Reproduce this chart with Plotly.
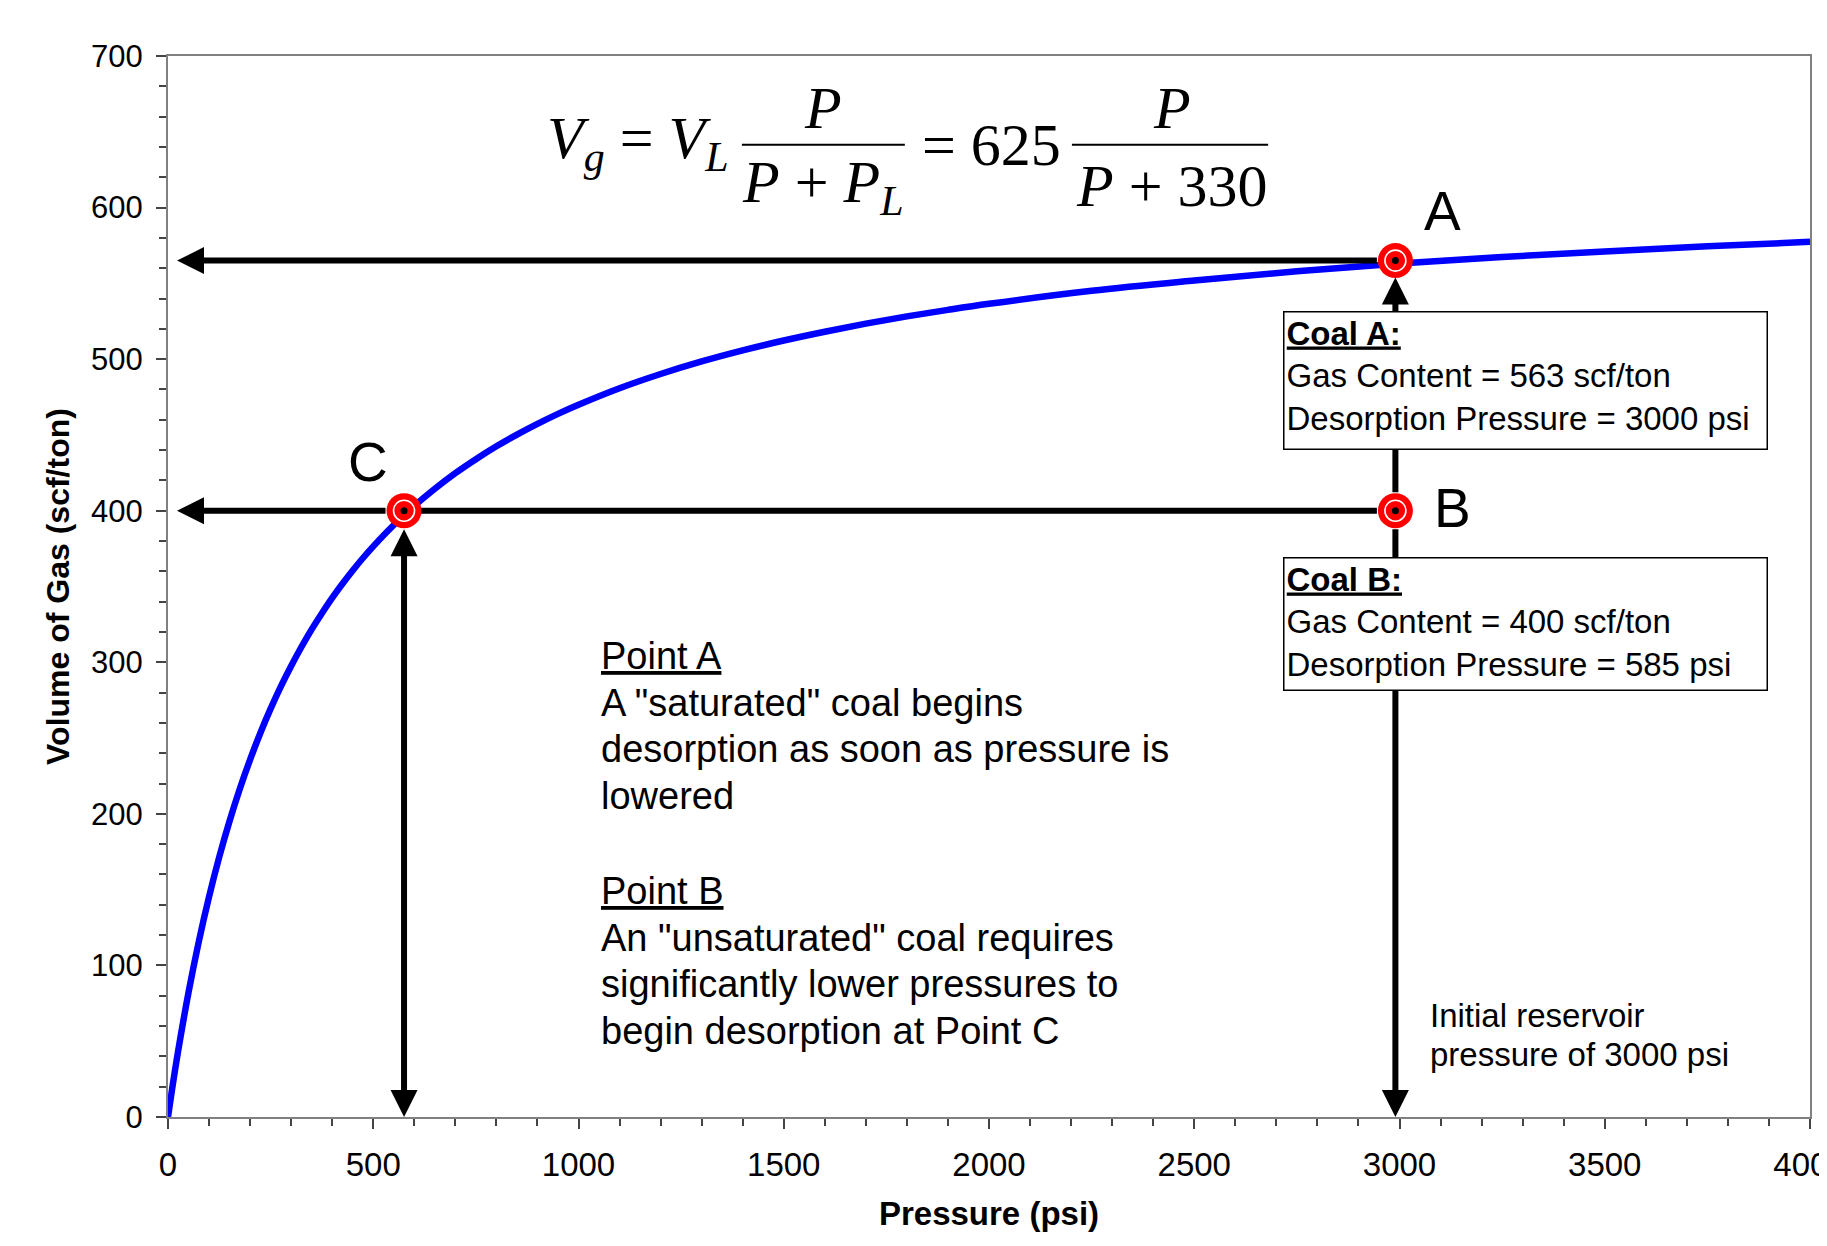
import plotly.graph_objects as go

# ---------------- data ----------------
pressure = [0, 10, 25, 50, 75, 100, 125, 150, 175, 200, 225, 250, 275, 300, 325,
            350, 375, 400, 425, 450, 475, 500, 550, 600, 650, 700, 750, 800,
            850, 900, 950, 1000, 1100, 1200, 1300, 1400, 1500, 1600, 1700,
            1800, 1900, 2000, 2250, 2500, 2750, 3000, 3250, 3500, 3750, 4000]
gas_volume = [0, 18.4, 44.0, 82.2, 115.7, 145.3, 171.7, 195.3, 216.6, 235.8, 253.4,
              269.4, 284.1, 297.6, 310.1, 321.7, 332.4, 342.5, 351.8, 360.6, 368.8,
              376.5, 390.6, 403.2, 414.5, 424.8, 434.0, 442.5, 450.2, 457.3, 463.9,
              469.9, 480.8, 490.2, 498.5, 505.8, 512.3, 518.1, 523.4, 528.2, 532.5,
              536.5, 545.1, 551.9, 558.0, 563.1, 567.4, 571.1, 574.4, 577.4]

point_labels = ["A", "B", "C"]
point_pressure = [2990, 2990, 575]
point_volume = [565, 400, 400]

x_ticks = [0, 500, 1000, 1500, 2000, 2500, 3000, 3500, 4000]
y_ticks = [0, 100, 200, 300, 400, 500, 600, 700]

# ---------------- figure ----------------
SANS = "Liberation Sans, Arial, sans-serif"
SERIF = "Liberation Serif, Times New Roman, serif"

fig = go.Figure()

fig.add_trace(go.Scatter(
    x=pressure, y=gas_volume, mode="lines",
    line=dict(color="#0000FF", width=6.5, shape="spline", smoothing=1.0, simplify=False),
    hoverinfo="skip", showlegend=False))

# target-like markers
fig.add_trace(go.Scatter(x=point_pressure, y=point_volume, mode="markers",
                         marker=dict(color="#FF0000", size=35, line=dict(width=0)),
                         showlegend=False, hoverinfo="skip"))
fig.add_trace(go.Scatter(x=point_pressure, y=point_volume, mode="markers",
                         marker=dict(symbol="circle-open", color="white", size=21,
                                     line=dict(width=1.6, color="white")),
                         showlegend=False, hoverinfo="skip"))
fig.add_trace(go.Scatter(x=point_pressure, y=point_volume, mode="markers",
                         marker=dict(color="black", size=7, line=dict(width=0)),
                         showlegend=False, hoverinfo="skip"))

xA, xB, xC = point_pressure
yA, yB, yC = point_volume
left_tip = 22
R = 17  # marker radius in px

ann = []

def arrow(x, y, ax, ay, head=True, start_head=False, standoff=0, startstandoff=0):
    d = dict(x=x, y=y, ax=ax, ay=ay, xref="x", yref="y", axref="x", ayref="y",
             text="", showarrow=True, arrowcolor="black", arrowwidth=6,
             arrowhead=2 if head else 0, arrowsize=0.9,
             standoff=standoff, startstandoff=startstandoff)
    if start_head:
        d.update(arrowside="end+start", startarrowhead=2, startarrowsize=0.9)
    ann.append(d)

# horizontal arrows
arrow(left_tip, yA, xA, yA, startstandoff=R)
arrow(left_tip, yC, xC, yC, startstandoff=R)
arrow(xC, yC, xB, yB, head=False, standoff=R, startstandoff=R)
# vertical arrows
arrow(xC, 0, xC, yC, start_head=True, startstandoff=R)
arrow(xB, 0, xB, yB, startstandoff=R)
arrow(xA, yA, xB, yB, standoff=R, startstandoff=R)

# letters
for lab, lx, ly in [("A", 3104, 598), ("B", 3130, 402), ("C", 487, 432)]:
    ann.append(dict(x=lx, y=ly, xref="x", yref="y", text=lab, showarrow=False,
                    font=dict(family=SANS, size=55, color="black")))

# info boxes
box_style = dict(xref="x", yref="y", showarrow=False, align="left", valign="top",
                 bgcolor="white", bordercolor="black", borderwidth=1.5, borderpad=2,
                 width=478, font=dict(family=SANS, size=33, color="black"))
ann.append(dict(x=3307, y=486, height=132,
                text="<b><u>Coal A:</u></b><br>Gas Content = 563 scf/ton<br>Desorption Pressure = 3000 psi",
                **box_style))
ann.append(dict(x=3307, y=325, height=127,
                text="<b><u>Coal B:</u></b><br>Gas Content = 400 scf/ton<br>Desorption Pressure = 585 psi",
                **box_style))

# explanation text, one annotation per line
def text_lines(x, y, lines, size, step):
    for i, t in enumerate(lines):
        ann.append(dict(x=x, y=y, xref="x", yref="y", xanchor="left", yanchor="middle",
                        yshift=-i * step, showarrow=False, align="left", text=t,
                        font=dict(family=SANS, size=size, color="black")))

text_lines(1050, 304, ["<u>Point A</u>", "A \"saturated\" coal begins",
                       "desorption as soon as pressure is", "lowered"], 38, 46.6)
text_lines(1050, 149, ["<u>Point B</u>", "An \"unsaturated\" coal requires",
                       "significantly lower pressures to", "begin desorption at Point C"], 38, 46.6)
text_lines(3069, 67, ["Initial reservoir", "pressure of 3000 psi"], 33, 39.5)

# equation
eq_font = dict(family=SERIF, size=60, color="black")
ann.append(dict(x=918, y=643, xref="x", yref="y", xanchor="left", yanchor="middle",
                showarrow=False, font=eq_font,
                text="<i>V</i><sub><i>g</i></sub> = <i>V</i><sub><i>L</i></sub>"))
ann.append(dict(x=1595, y=666, xref="x", yref="y", xanchor="center", yanchor="middle",
                showarrow=False, font=eq_font, text="<i>P</i>"))
ann.append(dict(x=1595, y=614, xref="x", yref="y", xanchor="center", yanchor="middle",
                showarrow=False, font=eq_font, text="<i>P</i> + <i>P</i><sub><i>L</i></sub>"))
ann.append(dict(x=1832, y=641, xref="x", yref="y", xanchor="left", yanchor="middle",
                showarrow=False, font=eq_font, text="= 625"))
ann.append(dict(x=2446, y=666, xref="x", yref="y", xanchor="center", yanchor="middle",
                showarrow=False, font=eq_font, text="<i>P</i>"))
ann.append(dict(x=2446, y=614, xref="x", yref="y", xanchor="center", yanchor="middle",
                showarrow=False, font=eq_font, text="<i>P</i> + 330"))

shapes = [
    dict(type="line", xref="x", yref="y", x0=1398, x1=1795, y0=641.5, y1=641.5,
         line=dict(color="black", width=2)),
    dict(type="line", xref="x", yref="y", x0=2202, x1=2680, y0=641.5, y1=641.5,
         line=dict(color="black", width=2)),
]

# page body has an 8px margin: paper starts at (8, 8)
fig.update_layout(
    width=1819, height=1238,
    margin=dict(l=160, r=17, t=48, b=129),
    paper_bgcolor="white", plot_bgcolor="white",
    annotations=ann, shapes=shapes,
    font=dict(family=SANS, color="black"),
    showlegend=False,
)

axis_common = dict(showgrid=False, zeroline=False, showline=True, linecolor="#808080",
                   linewidth=2, mirror=True, ticks="outside", ticklen=10, tickwidth=1.5,
                   tickcolor="#444444", automargin=False, ticklabeloverflow="allow")

fig.update_xaxes(range=[0, 4000], tickvals=x_ticks, ticklabelstandoff=7,
                 tickfont=dict(family=SANS, size=33, color="black"),
                 minor=dict(dtick=100, ticks="outside", ticklen=7, tickwidth=1.5, tickcolor="#444444"),
                 title=dict(text="<b>Pressure (psi)</b>", standoff=20,
                            font=dict(family=SANS, size=33, color="black")),
                 **axis_common)
fig.update_yaxes(range=[0, 700], tickvals=y_ticks, ticklabelstandoff=7,
                 tickfont=dict(family=SANS, size=31, color="black"),
                 minor=dict(dtick=20, ticks="outside", ticklen=7, tickwidth=1.5, tickcolor="#444444"),
                 title=dict(text="<b>Volume of Gas (scf/ton)</b>", standoff=12,
                            font=dict(family=SANS, size=32, color="black")),
                 **axis_common)

fig.write_html("out.html")
